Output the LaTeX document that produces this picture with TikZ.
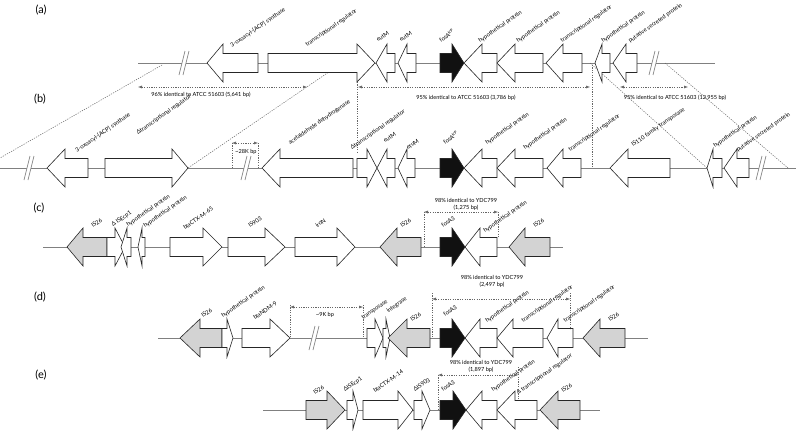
\documentclass[tikz,border=0pt]{standalone}
\usepackage{fontspec}
\setmainfont{Lato}
\usetikzlibrary{arrows.meta}
\tikzset{
  gene/.style={draw=black!85, line width=0.6pt},
  bb/.style={draw=black!50, line width=0.7pt},
  dotl/.style={draw=black!60, line width=0.5pt, dash pattern=on 1.2pt off 1.2pt},
  dimarr/.style={dotl, {Latex[length=4pt,width=3pt]}-{Latex[length=4pt,width=3pt]}},
  glab/.style={rotate=35, anchor=base west, inner sep=0pt, font=\fontsize{5.8}{6}\selectfont},
  dlab/.style={inner sep=0pt, align=center, font=\fontsize{5.6}{7}\selectfont},
  rlab/.style={inner sep=0pt, font=\fontsize{11}{12}\selectfont},
}
\newcommand\gR[5]{\draw[gene,fill=#5] ({#1},{#4-9.5}) -- ({#2},{#4-9.5}) -- ({#2},{#4-19}) -- ({#3},{#4}) -- ({#2},{#4+19}) -- ({#2},{#4+9.5}) -- ({#1},{#4+9.5}) -- cycle;}
\newcommand\gL[5]{\draw[gene,fill=#5] ({#1},{#4}) -- ({#2},{#4-19}) -- ({#2},{#4-9.5}) -- ({#3},{#4-9.5}) -- ({#3},{#4+9.5}) -- ({#2},{#4+9.5}) -- ({#2},{#4+19}) -- cycle;}
\newcommand\brk[2]{\fill[white] ({#1-6},{#2+12}) -- ({#1},{#2-12}) -- ({#1+4},{#2-12}) -- ({#1-2},{#2+12}) -- cycle;
  \draw[bb] ({#1-6},{#2+12}) -- ({#1},{#2-12}) ({#1-2},{#2+12}) -- ({#1+4},{#2-12});}
\newcommand\lab[3]{\node[glab] at (#1,#2) {#3};}
\definecolor{gry}{HTML}{D3D3D3}
\definecolor{blk}{HTML}{111111}
\begin{document}
\begin{tikzpicture}[x=1pt,y=-1pt]
\fill[white] (0,0) rectangle (796,431);
\useasboundingbox (0,0) rectangle (796,431);
% row labels
\node[rlab] (ra) at (41,10) {(a)};
\node[rlab] (rb) at (40,99) {(b)};
\node[rlab] (rc) at (39,208) {(c)};
\node[rlab] (rd) at (40,297) {(d)};
\node[rlab] (re) at (41,375) {(e)};
% backbones
\draw[bb] (138,63) -- (715,63);
\draw[bb] (0,168) -- (796,168);
\draw[bb] (43,247) -- (563,247);
\draw[bb] (158,338) -- (648,338);
\draw[bb] (263,410) -- (600,410);
% diagonal dotted connections (a)-(b)
\draw[dotl] (162,65) -- (0,158);
\draw[dotl] (342,63) -- (188,168);
\draw[dotl] (590,63) -- (707,168);
\draw[dotl] (665,63) -- (788,168);
\draw[dotl] (357,82) -- (357,152);
\draw[dotl] (592,65) -- (592,166);
% breaks
\brk{185}{63}\brk{655}{63}
\brk{30}{168}\brk{247}{168}\brk{762}{168}
\brk{315}{338}
% row (a)
\gL{207}{223}{258}{63}{white}
\gR{268}{357}{375}{63}{white}
\gL{376}{387}{395}{63}{white}
\gL{398}{407}{416}{63}{white}
\gR{440}{452}{464}{63}{blk}
\gL{464}{482}{497}{63}{white}
\gL{497}{515}{543}{63}{white}
\gL{546}{563}{582}{63}{white}
\gL{595}{602}{610}{63}{white}
\gL{613}{626}{637}{63}{white}
\lab{232}{48}{3-oxoacyl-[ACP] synthase}
\lab{307}{47}{transcriptional regulator}
\lab{378}{42}{eutM}
\lab{401}{42}{eutM}
\lab{441}{43}{fosA\textsuperscript{KP}}
\lab{480}{43}{hypothetical protein}
\lab{518}{43}{hypothetical protein}
\lab{562}{43}{transcriptional regulator}
\lab{603}{43}{hypothetical protein}
\lab{630}{43}{putative secreted protein}
\draw[dimarr] (138,87) -- (307,87);
\draw[dimarr] (358,87) -- (590,87);
\draw[dimarr] (620,87) -- (688,87);
\node[dlab] (ia1) at (201,95) {96\% identical to ATCC 51603 (5,641 bp)};
\node[dlab] (ia2) at (466,98) {95\% identical to ATCC 51603 (3,786 bp)};
\node[dlab] (ia3) at (675,98) {95\% identical to ATCC 51603 (12,955 bp)};
% row (b)
\gL{47}{65}{88}{168}{white}
\gR{105}{172}{188}{168}{white}
\gL{262}{280}{353}{168}{white}
\gR{357}{367}{377}{168}{white}
\gL{377}{387}{395}{168}{white}
\gL{398}{407}{415}{168}{white}
\gR{440}{452}{464}{168}{blk}
\gL{464}{482}{497}{168}{white}
\gL{497}{515}{543}{168}{white}
\gL{547}{563}{581}{168}{white}
\gL{610}{628}{670}{168}{white}
\gL{707}{713}{722}{168}{white}
\gL{724}{737}{749}{168}{white}
\lab{77}{153}{3-oxoacyl-[ACP] synthase}
\lab{138}{135}{Δtranscriptional regulator}
\lab{290}{145}{acetaldehyde dehydrogenase}
\lab{352}{150}{Δtranscriptional regulator}
\lab{385}{143}{eutM}
\lab{408}{150}{etuM}
\lab{445}{145}{fosA\textsuperscript{KP}}
\lab{487}{145}{hypothetical protein}
\lab{525}{150}{hypothetical protein}
\lab{570}{152}{transcriptional regulator}
\lab{633}{147}{IS110 family transposase}
\lab{715}{148}{hypothetical protein}
\lab{738}{152}{putative secreted protein}
\draw[dotl] (232,143) -- (232,168);
\draw[dotl] (258,143) -- (258,168);
\draw[dimarr] (232,143) -- (258,143);
\node[dlab] (k28) at (246,152) {\textasciitilde28K bp};
% row (c)
\gL{67}{83}{107}{247}{gry}
\gR{107}{115}{125}{247}{white}
\gL{121}{127}{131}{247}{white}
\gL{138}{142}{145}{247}{white}
\gR{170}{203}{222}{247}{white}
\gR{228}{265}{285}{247}{white}
\gR{295}{337}{355}{247}{white}
\gL{380}{397}{421}{247}{gry}
\gR{440}{452}{465}{247}{blk}
\gL{465}{480}{497}{247}{white}
\gL{509}{525}{550}{247}{gry}
\lab{93}{228}{IS26}
\lab{113}{227}{Δ ISEcp1}
\lab{128}{227}{hypothetical protein}
\lab{145}{228}{hypothetical protein}
\lab{185}{230}{blaCTX-M-65}
\lab{250}{228}{IS903}
\lab{317}{228}{iroN}
\lab{402}{228}{IS26}
\lab{443}{228}{fosA3}
\lab{485}{233}{hypothetical protein}
\lab{535}{228}{IS26}
\draw[dotl] (424,212) -- (424,247);
\draw[dotl] (498,212) -- (498,238);
\draw[dimarr] (424,212) -- (498,212);
\node[dlab] (ic) at (466,204) {98\% identical to YDC799\\(1,275 bp)};
% row (d)
\gL{180}{200}{222}{338}{gry}
\gR{222}{227}{233}{338}{white}
\gR{242}{270}{290}{338}{white}
\gR{367}{375}{383}{338}{white}
\gR{383}{386}{390}{338}{white}
\gL{388}{407}{430}{338}{gry}
\gR{440}{452}{465}{338}{blk}
\gL{465}{480}{497}{338}{white}
\gL{497}{513}{543}{338}{white}
\gL{547}{558}{573}{338}{white}
\gL{583}{600}{625}{338}{gry}
\lab{203}{318}{IS26}
\lab{223}{318}{hypothetical protein}
\lab{255}{320}{blaNDM-9}
\lab{363}{320}{transposase}
\lab{388}{313}{integrase}
\lab{412}{322}{IS26}
\lab{445}{317}{fosA3}
\lab{487}{323}{hypothetical protein}
\lab{523}{323}{transcriptional regulator}
\lab{565}{323}{transcriptional regulator}
\lab{610}{322}{IS26}
\draw[dotl] (290,305) -- (290,338);
\draw[dotl] (363,305) -- (363,338);
\draw[dimarr] (290,307) -- (363,307);
\node[dlab] (k9) at (325,315) {\textasciitilde9K bp};
\draw[dotl] (432,293) -- (432,338);
\draw[dotl] (570,293) -- (570,329);
\draw[dimarr] (432,299) -- (570,299);
\node[dlab] (id) at (492,281) {98\% identical to YDC799\\(2,497 bp)};
% row (e)
\gR{306}{327}{345}{410}{gry}
\gR{347}{353}{358}{410}{white}
\gR{363}{398}{413}{410}{white}
\gR{414}{422}{430}{410}{white}
\gR{440}{453}{466}{410}{blk}
\gL{466}{482}{497}{410}{white}
\gL{497}{515}{537}{410}{white}
\gL{540}{558}{580}{410}{gry}
\lab{315}{395}{IS26}
\lab{345}{392}{ΔISEcp1}
\lab{375}{393}{blaCTX-M-14}
\lab{415}{392}{ΔIS903}
\lab{443}{392}{fosA3}
\lab{493}{392}{hypothetical protein}
\lab{518}{395}{Δ transcriptional regulator}
\lab{563}{393}{IS26}
\draw[dotl] (438,375) -- (438,410);
\draw[dotl] (518,367) -- (518,400);
\draw[dimarr] (438,375) -- (518,375);
\node[dlab] (ie) at (481,366) {98\% identical to YDC799\\(1,897 bp)};
\end{tikzpicture}
\end{document}
